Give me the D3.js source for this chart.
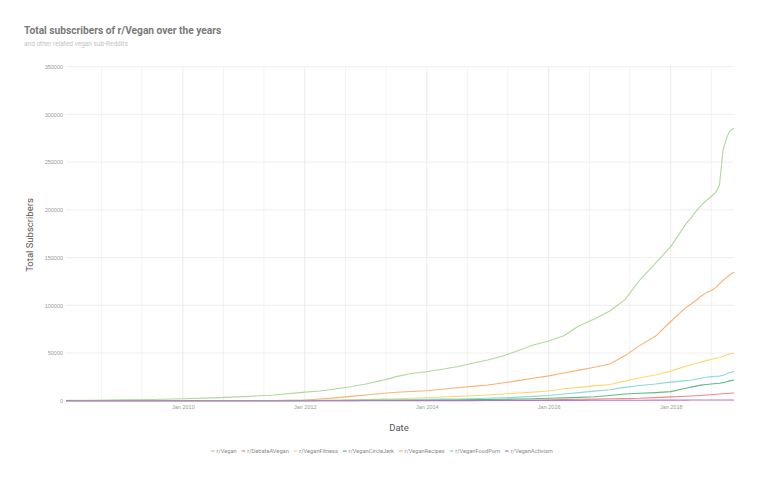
<!DOCTYPE html>
<html><head><meta charset="utf-8">
<script src="https://cdn.jsdelivr.net/npm/d3@7"></script>
<style>body{margin:0;background:#fff}svg{display:block;font-family:Roboto,"Noto Sans",sans-serif}</style>
</head><body><svg id="c" width="758" height="479"></svg>
<script>
const dates = ["2008-02-01","2008-07-01","2009-01-01","2009-07-01","2010-01-01","2010-07-01","2011-01-01","2011-07-01",
"2012-01-01","2012-04-01","2012-07-01","2012-10-01","2013-01-01","2013-04-01","2013-07-01","2013-10-01",
"2014-01-01","2014-04-01","2014-07-01","2014-10-01","2015-01-01","2015-04-01","2015-07-01","2015-10-01",
"2016-01-01","2016-04-01","2016-07-01","2016-10-01","2017-01-01","2017-04-01","2017-07-01","2017-10-01",
"2018-01-01","2018-04-01","2018-05-01","2018-06-01","2018-07-01","2018-08-01","2018-09-01","2018-10-01",
"2018-10-20","2018-11-10","2018-12-01","2018-12-20","2019-01-15"];
const seriesNames = ["r/Vegan","r/DebateAVegan","r/VeganFitness","r/VeganCircleJerk","r/VeganRecipes","r/VeganFoodPorn","r/VeganActivism"];
const vegan = [300,500,900,1300,2000,3000,4300,6000,9000,10200,12300,14700,17500,21000,25200,28500,30400,32900,35600,39200,42600,46800,52400,58400,62500,68000,78500,85500,94000,105700,126700,144000,161400,185000,191000,198500,204500,209500,214000,219000,226000,262000,275000,282500,285500];
const debate = [0,0,0,0,0,0,0,0,50,80,100,130,160,200,240,270,300,330,370,420,500,580,680,800,1000,1200,1450,1700,2000,2200,2500,3200,4000,4600,4900,5200,5500,5900,6300,6700,7000,7300,7600,7800,8000];
const fitness = [0,0,0,0,0,0,0,0,0,200,500,900,1300,1700,2100,2600,3100,3800,4500,5200,6000,7000,8000,9000,10200,12500,14000,15500,17000,20500,24000,27000,31000,36000,37500,39000,40500,42000,43500,44500,45000,46500,48000,49000,49700];
const circle = [0,0,0,0,0,0,0,0,100,150,200,280,350,450,550,650,800,900,1000,1150,1300,1550,1800,2100,2500,3000,3500,4200,5500,7000,7800,8500,9500,13000,14200,15300,16300,17000,17500,18000,18300,18900,19800,20800,21700];
const recipes = [0,0,0,0,0,0,0,100,700,1800,3000,4500,6000,7500,8800,9700,10500,12000,13500,15000,16500,18500,21000,23500,26000,29000,32000,35000,38500,47000,58000,67500,83000,97500,101000,105000,109500,113000,115500,119000,122500,126000,129000,132000,134500];
const foodporn = [0,0,0,0,0,0,0,100,300,400,500,600,700,850,1000,1200,1400,1600,1800,2100,2500,3000,3700,4500,5500,7000,8500,10000,11500,14000,16000,17500,19500,21000,21500,22500,23500,24500,25200,25600,25800,26500,28000,29500,30500];
const activism = [0,0,0,0,0,0,0,0,0,0,0,0,0,0,0,0,30,60,90,120,150,180,210,240,280,320,360,400,440,480,520,560,600,640,660,680,700,720,740,760,770,780,790,800,810];
const seriesValues = [vegan, debate, fitness, circle, recipes, foodporn, activism];
const colors = ["#a8d48f","#ee7b76","#fed35e","#4fb37a","#fca862","#81d4d8","#b36bcb"];
const yTicks = [0,50000,100000,150000,200000,250000,300000,350000];
const xLabelTicks = ["2010-01-01","2012-01-01","2014-01-01","2016-01-01","2018-01-01"];

const parse = d3.utcParse("%Y-%m-%d");
const dts = dates.map(parse);
const svg = d3.select("#c");
const L = 66, R = 734, T = 66.7, B = 400.7;
const x = d3.scaleUtc().domain(d3.extent(dts)).range([L, R]);
const y = d3.scaleLinear().domain([0, 350000]).range([B, T]);

// grid: vertical every 8 months
const gridDates = d3.range(-16, 109, 8).map(m => d3.utcMonth.offset(parse("2010-01-01"), m)).filter(d => x(d) >= L && x(d) <= R);
const majorSet = new Set(xLabelTicks.map(s => +parse(s)));
svg.append("g").selectAll("line").data(gridDates).join("line")
  .attr("x1", d => x(d)).attr("x2", d => x(d)).attr("y1", T).attr("y2", B)
  .attr("stroke", d => majorSet.has(+d) ? "#e6e6e6" : "#f0f0f0").attr("stroke-width", 0.8);
svg.append("g").selectAll("line").data(yTicks).join("line")
  .attr("x1", L).attr("x2", R).attr("y1", d => y(d)).attr("y2", d => y(d))
  .attr("stroke", "#ebebeb").attr("stroke-width", 0.8);

// axes
const yAxis = d3.axisLeft(y).tickValues(yTicks).tickSize(0).tickPadding(3).tickFormat(d3.format("d"));
const gy = svg.append("g").attr("transform", `translate(${L},0)`).call(yAxis);
gy.select(".domain").remove();
gy.selectAll("text").attr("fill", "#9a9a9a").style("font-size", "5.5px");
const xAxis = d3.axisBottom(x).tickValues(xLabelTicks.map(parse)).tickSize(0).tickPadding(4).tickFormat(d3.utcFormat("Jan %Y"));
const gx = svg.append("g").attr("transform", `translate(0,${B})`).call(xAxis);
gx.select(".domain").remove();
gx.selectAll("text").attr("fill", "#9a9a9a").style("font-size", "5.5px");

// lines
const line = d3.line().x((d, i) => x(dts[i])).y(d => y(d));
svg.append("g").selectAll("path").data(seriesValues).join("path")
  .attr("d", d => line(d)).attr("fill", "none")
  .attr("stroke", (d, i) => colors[i]).attr("stroke-width", 1.1).attr("stroke-opacity", 0.9)
  .attr("stroke-linejoin", "round");

// titles
svg.append("text").attr("x", 24).attr("y", 34).text("Total subscribers of r/Vegan over the years")
  .attr("fill", "#7a7a7a").style("font-size", "10.2px").style("font-weight", "bold");
svg.append("text").attr("x", 24).attr("y", 46).text("and other related vegan sub-Reddits")
  .attr("fill", "#c4c4c4").style("font-size", "6.5px");
svg.append("text").attr("transform", "translate(33,235) rotate(-90)").attr("text-anchor", "middle")
  .text("Total Subscribers").attr("fill", "#555").style("font-size", "9.5px");
svg.append("text").attr("x", 399).attr("y", 431).attr("text-anchor", "middle")
  .text("Date").attr("fill", "#555").style("font-size", "9.5px");

// legend
const lg = svg.append("g").attr("transform", "translate(0,451)");
let cx = 211;
seriesNames.forEach((n, i) => {
  const g = lg.append("g").attr("transform", `translate(${cx},0)`);
  g.append("line").attr("x1", 0).attr("x2", 3.5).attr("y1", 0).attr("y2", 0).attr("stroke", colors[i]).attr("stroke-width", 1.2);
  const t = g.append("text").attr("x", 5.5).attr("y", 2).text(n).attr("fill", "#8a8a8a").style("font-size", "5.7px");
  cx += 5.5 + t.node().getComputedTextLength() + 5;
});
</script></body></html>
